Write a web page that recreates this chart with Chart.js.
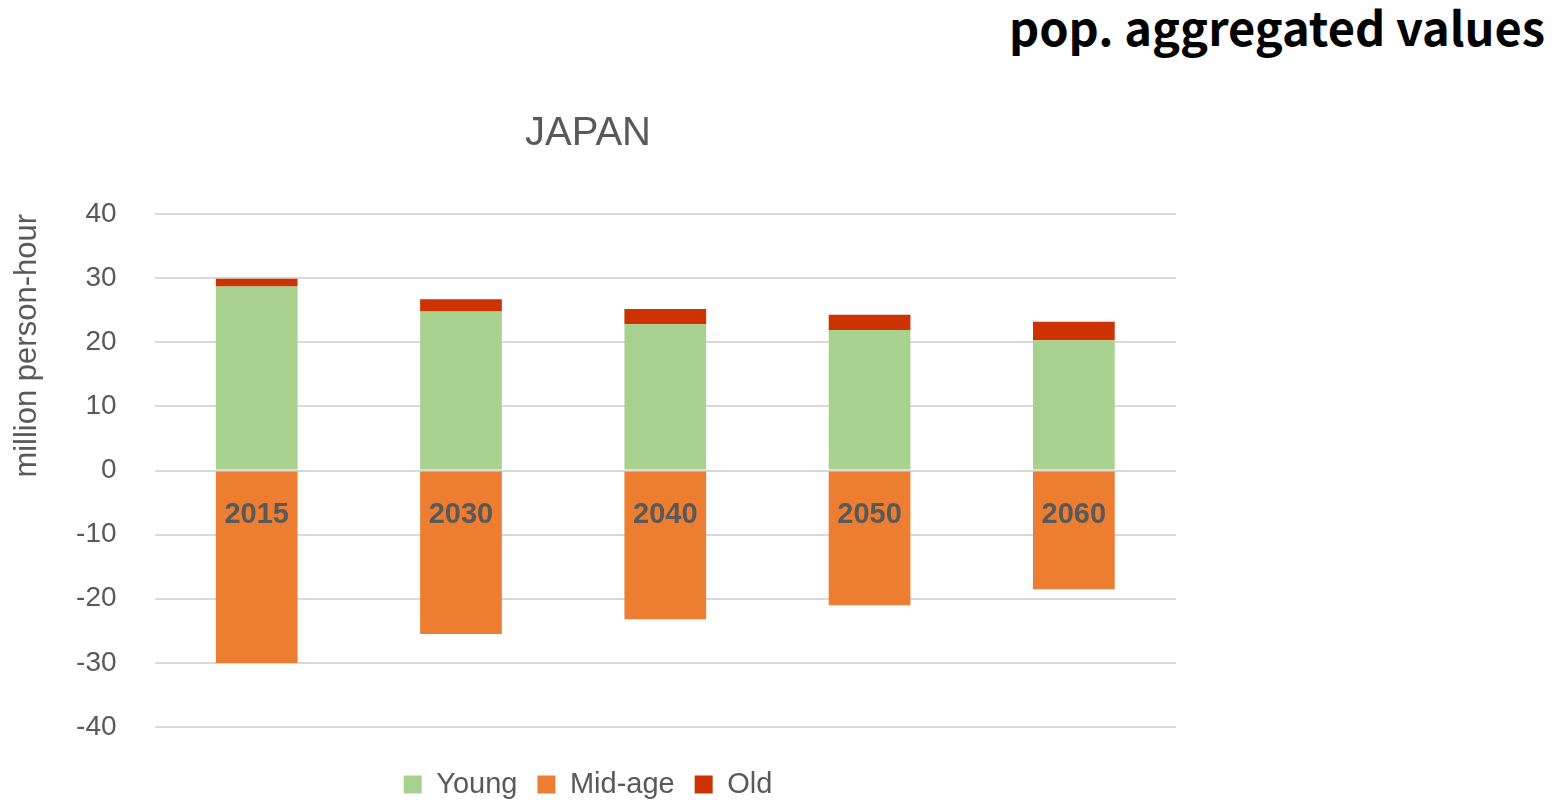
<!DOCTYPE html>
<html>
<head>
<meta charset="utf-8">
<script src="https://cdn.jsdelivr.net/npm/chart.js@4"></script>
<style>
  html, body { margin: 0; padding: 0; width: 1552px; height: 800px; overflow: hidden; background: #fff; }
  #heading { position: absolute; right: 7px; top: -9px; font: bold 47px "Noto Sans CJK JP", sans-serif; color: #000; white-space: nowrap; }
  #wrap { position: absolute; left: 0; top: 99px; width: 1180px; height: 710px; }
</style>
</head>
<body>
<div id="heading">pop. aggregated values</div>
<div id="wrap"><canvas id="myChart"></canvas></div>
<script>
  const years = ['2015', '2030', '2040', '2050', '2060'];
  const young = [28.7, 24.8, 22.8, 21.9, 20.3];
  const midAge = [-30.0, -25.5, -23.2, -21.0, -18.5];
  const old = [1.2, 1.9, 2.4, 2.4, 2.9];
  const yTicks = [-40, -30, -20, -10, 0, 10, 20, 30, 40];

  const grey = '#595959';
  const font = 'Liberation Sans';
  const ctx = document.getElementById('myChart');

  new Chart(ctx, {
    type: 'bar',
    data: {
      labels: years,
      datasets: [
        { label: 'Young', data: young, backgroundColor: '#a9d18e' },
        { label: 'Mid-age', data: midAge, backgroundColor: '#ed7d31' },
        { label: 'Old', data: old, backgroundColor: '#cc3300' }
      ]
    },
    options: {
      responsive: true,
      maintainAspectRatio: false,
      animation: false,
      layout: { padding: { right: 4 } },
      datasets: { bar: { categoryPercentage: 0.4, barPercentage: 1 } },
      scales: {
        x: {
          stacked: true,
          position: { y: 0 },
          grid: { display: false, drawTicks: false },
          border: { display: false },
          ticks: { z: 1, color: grey, padding: 27, font: { family: font, size: 29, weight: 'bold' } }
        },
        y: {
          stacked: true,
          min: yTicks[0],
          max: yTicks[yTicks.length - 1],
          afterBuildTicks: (scale) => { scale.ticks = yTicks.map(v => ({ value: v })); },
          grid: { color: '#d9d9d9', lineWidth: 2, drawTicks: false },
          border: { display: false },
          ticks: { color: grey, padding: 38, font: { family: font, size: 28 } },
          title: {
            display: true,
            text: 'million person-hour',
            align: 'end',
            color: grey,
            padding: { top: 17, bottom: 0 },
            font: { family: font, size: 31, lineHeight: 0.68 }
          }
        }
      },
      plugins: {
        title: {
          display: true,
          text: 'JAPAN',
          color: grey,
          padding: { top: 11, bottom: 56 },
          font: { family: font, size: 40, weight: 'normal' }
        },
        legend: {
          position: 'bottom',
          title: { display: true, text: '', padding: { top: 11, bottom: 0 }, font: { size: 10 } },
          labels: { color: grey, boxWidth: 18, boxHeight: 18, padding: 20, font: { family: font, size: 29 } }
        },
        tooltip: { enabled: false }
      }
    }
  });
</script>
</body>
</html>
